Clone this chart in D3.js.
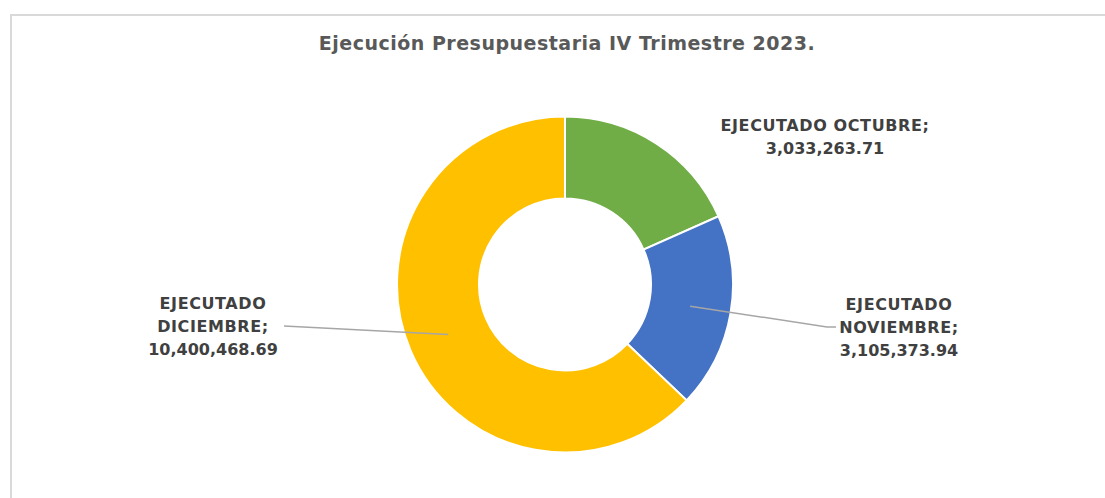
<!DOCTYPE html>
<html>
<head>
<meta charset="utf-8">
<script src="https://cdn.jsdelivr.net/npm/d3@7"></script>
<style>
  body { margin: 0; background: #fff; }
  text { font-family: "DejaVu Sans", sans-serif; }
</style>
</head>
<body>
<div id="donut-chart"></div>
<script>
// Chart data
const categories = ["EJECUTADO OCTUBRE", "EJECUTADO NOVIEMBRE", "EJECUTADO DICIEMBRE"];
const values = [3033263.71, 3105373.94, 10400468.69];
const valueLabels = ["3,033,263.71", "3,105,373.94", "10,400,468.69"];
const colors = ["#70AD47", "#4472C4", "#FFC000"];

// Label text lines and placement (label box centre, first baseline, leader end)
const labelLines = [
    ["EJECUTADO OCTUBRE;", valueLabels[0]],
    ["EJECUTADO", "NOVIEMBRE;", valueLabels[1]],
    ["EJECUTADO", "DICIEMBRE;", valueLabels[2]]
];
const labelPos = [
    {x: 825, y: 131, leader: null},
    {x: 899, y: 310, leader: [[827, 327], [836, 327]]},
    {x: 213, y: 309, leader: [[284, 326]]}
];

// Setting dimensions
const width = 1105,
    height = 498,
    cx = 565,
    cy = 284.5,
    outerR = 168,
    innerR = 86;

const svg = d3.select("#donut-chart").append("svg")
    .attr("width", width)
    .attr("height", height);

// Chart frame (right and bottom edges fall outside the picture)
svg.append("rect")
    .attr("x", 11)
    .attr("y", 15)
    .attr("width", width)
    .attr("height", height)
    .attr("fill", "none")
    .attr("stroke", "#d9d9d9")
    .attr("stroke-width", 2);

// Title
svg.append("text")
    .attr("x", 567)
    .attr("y", 50)
    .attr("text-anchor", "middle")
    .attr("font-size", 19)
    .attr("font-weight", "bold")
    .attr("letter-spacing", 0.5)
    .attr("fill", "#595959")
    .text("Ejecución Presupuestaria IV Trimestre 2023.");

// Pie layout
const pie = d3.pie().sort(null).value(d => d);
const arcs = pie(values);

const arc = d3.arc()
    .innerRadius(innerR)
    .outerRadius(outerR);

const mid = d3.arc()
    .innerRadius((innerR + outerR) / 2)
    .outerRadius((innerR + outerR) / 2);

const g = svg.append("g")
    .attr("transform", "translate(" + cx + "," + cy + ")");

g.selectAll(".slice")
    .data(arcs)
    .enter().append("path")
    .attr("class", "slice")
    .attr("d", arc)
    .attr("fill", (d, i) => colors[i])
    .attr("stroke", "#fff")
    .attr("stroke-width", 2);

// Leader lines
arcs.forEach((d, i) => {
    const p = labelPos[i];
    if (!p.leader) return;
    const c = mid.centroid(d);
    const pts = [[c[0] + cx, c[1] + cy]].concat(p.leader);
    svg.append("polyline")
        .attr("points", pts.map(q => q.join(",")).join(" "))
        .attr("fill", "none")
        .attr("stroke", "#a6a6a6")
        .attr("stroke-width", 1.5);
});

// Data labels
labelLines.forEach((lines, i) => {
    const t = svg.append("text")
        .attr("text-anchor", "middle")
        .attr("font-size", 16)
        .attr("font-weight", "bold")
        .attr("fill", "#404040");
    lines.forEach((s, j) => {
        t.append("tspan")
            .attr("x", labelPos[i].x)
            .attr("y", labelPos[i].y + j * 23)
            .attr("letter-spacing", /\d/.test(s) ? 0 : 0.6)
            .text(s);
    });
});
</script>
</body>
</html>
